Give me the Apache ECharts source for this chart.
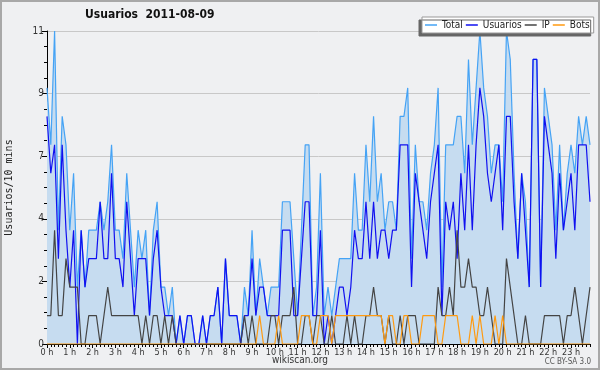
<!DOCTYPE html>
<html>
<head>
<meta charset="utf-8">
<script src="https://cdn.jsdelivr.net/npm/echarts@6/dist/echarts.min.js"></script>
<style>html,body{margin:0;padding:0;background:#eff0f2;}#c{width:600px;height:370px;}</style>
</head>
<body>
<div id="c"></div>
<script>
// 10-minute slots over the day, 144 points
const hourLabels = ['0 h','1 h','2 h','3 h','4 h','5 h','6 h','7 h','8 h','9 h','10 h','11 h','12 h','13 h','14 h','15 h','16 h','17 h','18 h','19 h','20 h','21 h','22 h','23 h'];
const yTickLabels = ['0','2','4','7','9','11'];
const total = [
 9,7,11,4,8,7,4,6,2,4, 2,4,4,4,5,4,5,7,4,4, 3,6,4,2,4,3,4,1,4,5, 2,2,1,2,0,1,0,1,1,0,
 0,1,0,1,1,2,0,3,1,1, 1,0,2,1,4,1,3,2,1,2, 2,2,5,5,5,3,1,4,7,7, 1,2,6,1,2,1,2,3,3,3,
 3,6,4,4,7,5,8,5,6,4, 5,5,4,8,8,9,3,7,5,5, 4,6,7,9,2,7,7,7,8,8, 6,10,7,9,11,9,8,6,7,7,
 5,11,10,6,3,6,5,2,10,10, 2,9,8,7,4,7,4,6,7,6, 8,7,8,7];
const usuarios = [
 8,6,7,3,7,4,2,4,0,4, 2,3,3,3,5,3,3,6,3,3, 2,5,3,1,3,3,3,1,3,4, 2,1,1,1,0,1,0,1,1,0,
 0,1,0,1,1,2,0,3,1,1, 1,0,1,1,3,1,2,2,1,1, 1,1,4,4,4,1,1,3,5,5, 1,1,4,0,1,0,1,2,2,1,
 2,4,3,3,5,3,5,3,4,4, 3,4,4,7,7,7,2,6,5,4, 3,5,6,7,1,5,4,5,3,6, 4,7,4,7,9,8,6,5,6,7,
 4,8,8,5,3,6,4,2,10,10, 2,8,7,6,3,6,4,5,6,4, 7,7,7,5];
const ip = [
 1,1,4,1,1,3,2,2,2,0, 0,1,1,1,0,1,2,1,1,1, 1,1,1,1,1,0,1,0,1,1, 0,1,0,1,0,0,0,0,0,0,
 0,0,0,0,0,0,0,0,0,0, 0,0,1,0,1,0,0,0,0,1, 1,0,1,1,1,2,0,0,1,1, 0,1,1,0,0,1,0,0,0,1,
 0,1,0,0,1,1,2,1,1,0, 1,0,0,1,0,1,1,1,0,0, 0,0,0,2,1,1,2,1,4,2, 2,3,2,2,1,1,2,1,0,0,
 0,3,2,1,0,0,1,0,0,0, 0,1,1,1,1,1,0,1,1,2, 1,0,1,2];
const bots = [
 0,0,0,0,0,0,0,0,0,0, 0,0,0,0,0,0,0,0,0,0, 0,0,0,0,0,0,0,0,0,0, 0,0,0,0,0,0,0,0,0,0,
 0,0,0,0,0,0,0,0,0,0, 0,0,0,0,0,0,1,0,0,0, 0,1,0,0,0,0,0,1,1,1, 0,0,1,1,1,0,1,1,1,1,
 1,1,1,1,1,1,1,1,1,0, 1,1,0,0,1,1,0,0,0,1, 1,1,1,0,0,1,1,1,1,0, 0,0,1,0,1,0,0,0,1,0,
 1,0,0,0,0,0,0,0,0,0, 0,0,0,0,0,0,0,0,0,0, 0,0,0,0];
const categories = total.map((_, i) => i);

const F = "'DejaVu Sans Condensed','DejaVu Sans',sans-serif";
const chart = echarts.init(document.getElementById('c'), null, {renderer: 'canvas'});
const lineS = (name, data, color, extra) => Object.assign({
  name, type: 'line', data, symbol: 'none', showSymbol: false,
  color, lineStyle: {color, width: 1.2}, animation: false
}, extra || {});

chart.setOption({
  backgroundColor: '#eff0f2',
  animation: false,
  title: {
    text: 'Usuarios  2011-08-09', left: 85, top: 9, padding: 0,
    textStyle: {fontFamily: F, fontSize: 12, fontWeight: 'bold', color: '#111'}
  },
  legend: {
    left: 422, top: 17, padding: [3, 4, 3, 3], itemGap: 3,
    itemWidth: 12, itemHeight: 1.5,
    backgroundColor: '#fff', borderColor: '#999', borderWidth: 1,
    shadowColor: '#666', shadowOffsetX: -3, shadowOffsetY: 3, shadowBlur: 0,
    textStyle: {fontFamily: F, fontSize: 10, color: '#222'},
    data: [
      {name: 'Total', icon: 'rect'},
      {name: 'Usuarios', icon: 'rect'},
      {name: 'IP', icon: 'rect'},
      {name: 'Bots', icon: 'rect'}
    ]
  },
  grid: {left: 47, right: 10, top: 31, bottom: 26, containLabel: false, outerBoundsMode: 'none'},
  xAxis: [{
    type: 'category', data: categories, boundaryGap: false,
    axisLine: {lineStyle: {color: '#000', width: 1}},
    axisTick: {show: true, interval: 0, length: 3, lineStyle: {color: '#000'}},
    axisLabel: {interval: 5, margin: 4, fontFamily: F, fontSize: 9, color: '#333',
      formatter: (v, idx) => hourLabels[Math.round(idx / 6)]},
    splitLine: {show: false}
  }, {
    type: 'category', data: categories, boundaryGap: false, position: 'bottom',
    axisLine: {show: false},
    axisTick: {show: true, interval: 5, length: 4, lineStyle: {color: '#000'}},
    axisLabel: {show: false}, splitLine: {show: false}
  }],
  yAxis: {
    type: 'value', min: 0, max: 11, interval: 2.2,
    name: 'Usuarios/10 mins', nameLocation: 'middle', nameGap: 33, nameRotate: 90,
    nameTextStyle: {fontFamily: "'DejaVu Sans Mono',monospace", fontSize: 10, color: '#222'},
    axisLine: {show: true, lineStyle: {color: '#000', width: 1}},
    axisTick: {show: true, length: 5, lineStyle: {color: '#000'}},
    minorTick: {show: true, splitNumber: 4, length: 3, lineStyle: {color: '#000'}},
    axisLabel: {margin: 3, fontFamily: F, fontSize: 10, color: '#333',
      formatter: (v) => yTickLabels[Math.round(v / 2.2)]},
    splitLine: {show: true, lineStyle: {color: '#c8c8c8', width: 1}}
  },
  series: [
    lineS('Total', total, '#45a3f5', {areaStyle: {color: '#c6dcf0', opacity: 1}}),
    lineS('Usuarios', usuarios, '#1010f0'),
    lineS('IP', ip, '#444444'),
    lineS('Bots', bots, '#ff9a10')
  ],
  graphic: [
    {type: 'text', left: 'center', top: 355, style: {text: 'wikiscan.org', font: "10px " + F, fill: '#333'}},
    {type: 'text', right: 9, top: 358, style: {text: 'CC BY-SA 3.0', font: "8px " + F, fill: '#555'}},
    {type: 'rect', shape: {x: 1, y: 1, width: 598, height: 368}, style: {fill: 'none', stroke: '#a8a8a8', lineWidth: 2}, silent: true, z: 100}
  ]
});
</script>
</body>
</html>
